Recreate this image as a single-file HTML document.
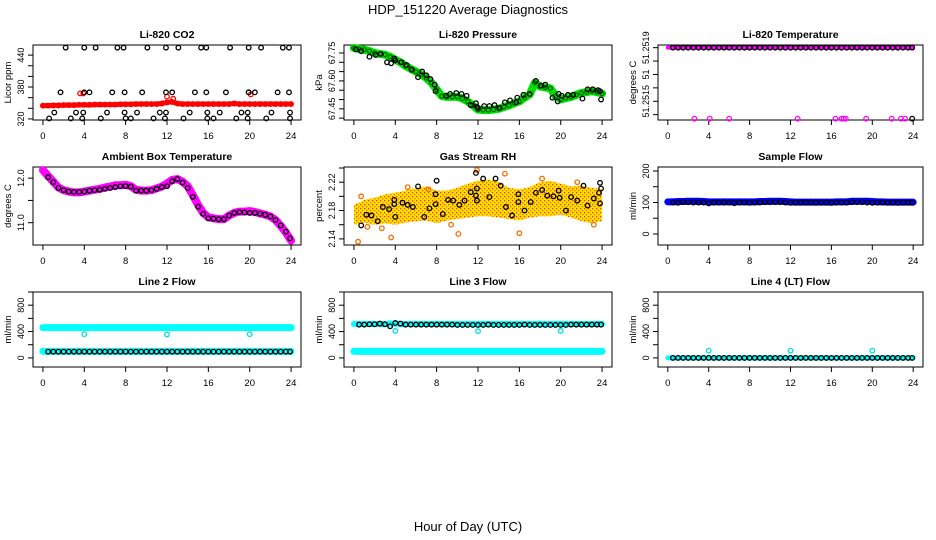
<!DOCTYPE html>
<html><head><meta charset="utf-8"><style>
html,body{margin:0;padding:0;background:#fff;}
svg{display:block;font-family:"Liberation Sans",Arial,sans-serif;}
</style></head><body>
<svg id="chart" width="936" height="540" viewBox="0 0 936 540" xmlns="http://www.w3.org/2000/svg">
<defs>
<pattern id="rhpat" width="4" height="4" patternUnits="userSpaceOnUse">
<rect width="4" height="4" fill="#ffe000"/><rect x="0" y="0" width="1.3" height="1.3" fill="#f03a10"/><rect x="2" y="2" width="1.3" height="1.3" fill="#f07010"/>
</pattern>
</defs>
<text x="468" y="14" font-size="13" text-anchor="middle">HDP_151220  Average Diagnostics</text>
<text x="468" y="531" font-size="13" text-anchor="middle">Hour of Day (UTC)</text>
</svg>
<script>
const hgrid = [0,0.5,1,1.5,2,2.5,3,3.5,4,4.5,5,5.5,6,6.5,7,7.5,8,8.5,9,9.5,10,10.5,11,11.5,12,12.5,13,13.5,14,14.5,15,15.5,16,16.5,17,17.5,18,18.5,19,19.5,20,20.5,21,21.5,22,22.5,23,23.5,24];
const bgrid = [0.5,1,1.5,2,2.5,3,3.5,4,4.5,5,5.5,6,6.5,7,7.5,8,8.5,9,9.5,10,10.5,11,11.5,12,12.5,13,13.5,14,14.5,15,15.5,16,16.5,17,17.5,18,18.5,19,19.5,20,20.5,21,21.5,22,22.5,23,23.5,23.9];
const xTicks = [0,4,8,12,16,20,24];

// CO2
const co2Red = [345,345,345.5,345.5,346,346,346,346.5,346.5,346.5,347,347,347,347,347,347.5,347.5,347.5,348,348,348,348,348,349,351,352,349,348,348,348,348,348,348,348,348,348,348,349,348,348,348,348,348,348,348,348,348,348,348];
const co2RedOutX = [3.6,3.9,12.0,12.6,19.9,20.1];
const co2RedOutY = [368,368,362,358,370,366];
const co2BlkX = [2.2,4.0,5.1,7.2,7.8,10.1,11.9,13.1,15.3,15.8,18.1,19.9,21.1,23.2,23.8, 1.7,4.0,4.5,6.7,7.9,9.6,11.9,12.5,14.7,15.8,17.7,19.9,20.5,22.7,23.8, 1.1,3.2,3.9,6.2,7.9,9.1,11.3,11.9,14.2,15.9,17.1,19.2,19.8,22.1,23.9, 0.6,2.7,3.8,5.6,8.0,8.5,10.7,11.8,13.6,15.9,16.5,18.7,19.8,21.6,23.9];
const co2BlkY = [454,454,454,454,454,454,454,454,454,454,454,454,454,454,454, 370,370,370,370,370,370,370,370,370,370,370,370,370,370,370, 332,332,332,332,332,332,332,332,332,332,332,332,332,332,332, 321,321,321,321,321,321,321,321,321,321,321,321,321,321,321];

// Pressure
const presGreen = [67.777,67.772,67.768,67.76,67.75,67.745,67.741,67.73,67.714,67.70,67.68,67.665,67.65,67.635,67.616,67.59,67.554,67.518,67.514,67.514,67.514,67.505,67.49,67.468,67.446,67.444,67.443,67.446,67.45,67.46,67.468,67.48,67.49,67.51,67.527,67.59,67.57,67.565,67.56,67.518,67.5,67.508,67.514,67.525,67.535,67.54,67.545,67.54,67.532];
const presBlkX = [0.2,0.7,1.5,2.1,2.6,3.2,3.6,3.9,4.0,4.6,5.1,5.6,6.2,6.6,7.0,7.4,7.8,7.9,8.9,9.3,9.9,10.4,10.9,11.3,11.8,11.9,12.0,12.6,13.1,13.6,14.1,14.6,15.1,15.7,15.8,16.4,17.0,17.6,18.1,18.5,19.2,19.7,19.8,20.1,20.7,21.2,22.1,22.6,23.1,23.6,23.8,23.9];
const presBlkY = [67.77,67.76,67.73,67.74,67.745,67.7,67.695,67.72,67.71,67.70,67.685,67.66,67.62,67.65,67.63,67.61,67.58,67.545,67.52,67.53,67.535,67.53,67.52,67.47,67.48,67.46,67.455,67.465,67.465,67.47,67.455,67.485,67.495,67.485,67.51,67.525,67.53,67.60,67.575,67.58,67.51,67.49,67.53,67.52,67.525,67.525,67.505,67.555,67.555,67.55,67.545,67.5];

// Li-820 temperature
const ltTop = [51.2519,51.2519,51.2519,51.2519,51.2519,51.2519,51.2519,51.2519,51.2519,51.2519,51.2519,51.2519,51.2519,51.2519,51.2519,51.2519,51.2519,51.2519,51.2519,51.2519,51.2519,51.2519,51.2519,51.2519,51.2519,51.2519,51.2519,51.2519,51.2519,51.2519,51.2519,51.2519,51.2519,51.2519,51.2519,51.2519,51.2519,51.2519,51.2519,51.2519,51.2519,51.2519,51.2519,51.2519,51.2519,51.2519,51.2519,51.2519,51.2519];
const ltLowX = [2.6,4.1,6.0,12.7,16.4,17.0,17.2,17.4,19.4,21.9,22.8,23.2];
const ltLowY = [51.25137,51.25137,51.25137,51.25137,51.25137,51.25137,51.25137,51.25137,51.25137,51.25137,51.25137,51.25137];

// Ambient
const ambMag = [12.18,12.05,11.92,11.79,11.73,11.70,11.68,11.68,11.70,11.72,11.74,11.76,11.79,11.81,11.84,11.84,11.85,11.82,11.74,11.72,11.72,11.73,11.77,11.81,11.88,11.96,11.98,11.92,11.82,11.62,11.40,11.22,11.12,11.10,11.08,11.08,11.16,11.22,11.25,11.25,11.26,11.24,11.21,11.18,11.14,11.06,10.93,10.78,10.6];
const ambBlk = [12.02,11.91,11.78,11.73,11.70,11.69,11.69,11.70,11.72,11.73,11.74,11.76,11.78,11.80,11.82,11.82,11.81,11.72,11.72,11.72,11.73,11.76,11.80,11.82,11.93,11.98,11.90,11.78,11.58,11.36,11.20,11.10,11.09,11.08,11.08,11.16,11.22,11.24,11.23,11.22,11.22,11.20,11.18,11.14,11.06,10.94,10.80,10.65];

// RH
const rhHours = [0,1,2,3,4,5,6,7,8,9,10,11,12,13,14,15,16,17,18,19,20,21,22,23,24];
const rhUpper = [2.188,2.195,2.198,2.203,2.205,2.208,2.212,2.214,2.208,2.208,2.212,2.218,2.222,2.224,2.22,2.212,2.21,2.213,2.22,2.222,2.218,2.214,2.215,2.212,2.21];
const rhLower = [2.16,2.163,2.16,2.162,2.16,2.163,2.165,2.166,2.162,2.166,2.168,2.17,2.172,2.172,2.17,2.168,2.166,2.17,2.172,2.172,2.174,2.17,2.165,2.162,2.165];
const rhOutX = [0.4,3.6,10.1,16.0,7.2,5.2,11.9,14.6,2.7,1.3,9.4,18.2,21.6,0.7,23.2];
const rhOutY = [2.136,2.142,2.147,2.148,2.21,2.213,2.237,2.232,2.155,2.157,2.16,2.225,2.22,2.2,2.16];
const rhBlkX = [0.7,1.2,1.7,2.3,2.8,3.4,3.9,3.9,4.0,4.7,5.2,5.7,6.2,6.8,7.3,8.0,7.9,7.9,8.6,9.1,9.6,10.2,10.7,11.3,11.8,11.9,11.8,11.9,12.5,13.1,13.7,14.2,14.7,15.3,15.9,15.9,16.5,17.1,17.6,18.2,18.7,19.3,19.8,19.9,20.5,21.0,21.6,22.2,22.6,23.2,23.7,23.8,23.8,23.9];
const rhBlkY = [2.159,2.174,2.173,2.165,2.185,2.182,2.195,2.189,2.171,2.191,2.188,2.185,2.214,2.171,2.183,2.222,2.203,2.189,2.175,2.195,2.194,2.188,2.194,2.206,2.233,2.211,2.201,2.194,2.225,2.199,2.225,2.215,2.185,2.173,2.203,2.192,2.18,2.192,2.205,2.209,2.201,2.2,2.208,2.198,2.18,2.199,2.194,2.215,2.187,2.197,2.205,2.19,2.219,2.211];

// Sample flow
const sfBlue = [102,102,103,103,104,104,104,103,102,102,102,102,102,102,102,102,102,102,103,103,104,104,104,103,102,101,101,101,101,101,101,101,101,102,102,102,104,104,104,104,103,102,102,101,101,101,101,101,101];
const sfBlk = [100,99,101,101,100,100,100,97,100,100,100,100,98,100,100,99,100,100,101,101,101,101,100,99,100,100,100,100,99,100,100,99,100,100,100,101,101,101,100,99,100,100,100,100,99,100,100,99];

// Line 2
const l2High = [460,460,460,460,460,460,460,460,460,460,460,460,460,460,460,460,460,460,460,460,460,460,460,460,460,460,460,460,460,460,460,460,460,460,460,460,460,460,460,460,460,460,460,460,460,460,460,460,460];
const l2Low = [100,100,100,100,100,100,100,100,100,100,100,100,100,100,100,100,100,100,100,100,100,100,100,100,100,100,100,100,100,100,100,100,100,100,100,100,100,100,100,100,100,100,100,100,100,100,100,100,100];
const l2Blk = [95,95,95,95,95,95,95,95,95,95,95,95,95,95,95,95,95,95,95,95,95,95,95,95,95,95,95,95,95,95,95,95,95,95,95,95,95,95,95,95,95,95,95,95,95,95,95,95];
const outX = [4,12,20];
const l2OutY = [360,355,360];

// Line 3
const l3High = [515,515,515,515,515,515,515,520,520,515,515,515,515,515,515,515,515,515,515,515,515,515,515,515,515,515,515,515,515,515,515,515,515,515,515,515,515,515,515,515,515,515,515,515,515,515,515,515,515];
const l3Low = l2Low;
const l3Blk = [505,505,510,510,520,510,480,530,520,505,505,505,505,505,505,505,505,505,505,500,500,500,500,500,500,505,500,500,500,500,500,500,505,500,500,500,500,500,500,500,500,505,505,505,505,505,505,505];
const l3OutY = [410,405,410];

// Line 4
const l4Cyan = [0,0,0,0,0,0,0,0,0,0,0,0,0,0,0,0,0,0,0,0,0,0,0,0,0,0,0,0,0,0,0,0,0,0,0,0,0,0,0,0,0,0,0,0,0,0,0,0,0];
const l4Blk = [0,0,0,0,0,0,0,0,0,0,0,0,0,0,0,0,0,0,0,0,0,0,0,0,0,0,0,0,0,0,0,0,0,0,0,0,0,0,0,0,0,0,0,0,0,0,0,0];
const l4OutY = [110,110,110];

const svg = document.getElementById('chart');
const NS = 'http://www.w3.org/2000/svg';
function el(tag, attrs, parent) {
  const e = document.createElementNS(NS, tag);
  for (const k in attrs) e.setAttribute(k, attrs[k]);
  (parent || svg).appendChild(e);
  return e;
}
const cols = [[33,301],[344,612],[658,923]];
const rows = [[45,120],[167,245],[292,367]];

function panel(name, c, r, ylim, yTicks, yLabels, ylab) {
  const g = el('g', {});
  
  
  const [x0,x1] = cols[c], [y0,y1] = rows[r];
  const sx = h => x0 + (h + 0.96) / 25.92 * (x1 - x0);
  const sy = v => y1 - (v - ylim[0]) / (ylim[1] - ylim[0]) * (y1 - y0);
  const box = el('rect', {x:x0, y:y0, width:x1-x0, height:y1-y0, fill:'none', stroke:'#000', 'stroke-width':1}, g);
  
  
  const xa = el('g', {}, g);
  
  
  el('line', {x1:sx(xTicks[0]), x2:sx(xTicks[xTicks.length-1]), y1:y1, y2:y1, stroke:'#000'}, xa);
  xTicks.forEach(t => {
    el('line', {x1:sx(t), x2:sx(t), y1:y1, y2:y1+5, stroke:'#000'}, xa);
    const tx = el('text', {x:sx(t), y:y1+19, 'font-size':9.5, 'text-anchor':'middle'}, xa);
    tx.textContent = t;
    
    
  });
  const ya = el('g', {}, g);
  
  
  el('line', {x1:x0, x2:x0, y1:sy(yTicks[0]), y2:sy(yTicks[yTicks.length-1]), stroke:'#000'}, ya);
  yTicks.forEach((t, i) => {
    el('line', {x1:x0-5, x2:x0, y1:sy(t), y2:sy(t), stroke:'#000'}, ya);
    if (yLabels[i] !== '') {
      const yy = sy(t);
      const tx = el('text', {x:x0-9, y:yy, 'font-size':9, 'text-anchor':'middle', transform:`rotate(-90 ${x0-9} ${yy})`}, ya);
      tx.textContent = yLabels[i];
      
      
    }
  });
  const ym = (y0 + y1) / 2;
  const yl = el('text', {x:x0-22, y:ym, 'font-size':9.5, 'text-anchor':'middle', transform:`rotate(-90 ${x0-22} ${ym})`}, g);
  yl.textContent = ylab;
  
  
  const tt = el('text', {x:(x0+x1)/2, y:y0-7, 'font-size':10.5, 'font-weight':'bold', 'text-anchor':'middle'}, g);
  
  
  return {g, sx, sy, tt};
}
function band(p, xs, ys, color, w, nm) {
  const pts = [];
  for (let i = 0; i < Math.min(xs.length, ys.length); i++) pts.push(p.sx(xs[i]) + ',' + p.sy(ys[i]));
  const l = el('polyline', {points:pts.join(' '), fill:'none', stroke:color, 'stroke-width':w, 'stroke-linejoin':'round', 'stroke-linecap':'round'}, p.g);
  
  
}
function pts(p, xs, ys, color, nm, r) {
  const g = el('g', {}, p.g);
  
  
  for (let i = 0; i < Math.min(xs.length, ys.length); i++) {
    const c = el('circle', {cx:p.sx(xs[i]), cy:p.sy(ys[i]), r:r||2.3, fill:'none', stroke:color, 'stroke-width':1.3}, g);
    
    
  }
}

// Panel 1 CO2
let p = panel('co2', 0, 0, [318,459], [320,340,360,380,400,420,440], ['320','','','380','','','440'], 'Licor ppm');
p.tt.textContent = 'Li-820 CO2';
band(p, hgrid, co2Red, '#ff0000', 5, 'co2-red-band');
pts(p, hgrid, co2Red, '#ff0000', 'co2-red-points');
pts(p, co2RedOutX, co2RedOutY, '#ff0000', 'co2-red-outliers');
pts(p, co2BlkX, co2BlkY, '#000', 'co2-black-points');

// Panel 2 pressure
p = panel('pressure', 1, 0, [67.39,67.793], [67.40,67.45,67.50,67.55,67.60,67.65,67.70,67.75], ['','67.45','','','67.60','','','67.75'], 'kPa');
p.tt.textContent = 'Li-820 Pressure';
band(p, hgrid, presGreen, '#00e000', 8, 'pressure-green-band');
pts(p, hgrid, presGreen, '#007000', 'pressure-green-points', 2);
pts(p, presBlkX, presBlkY, '#000', 'pressure-black-points');

// Panel 3 Li temp
p = panel('li-temp', 2, 0, [51.25136,51.25192], [51.2514,51.2515,51.2516,51.2517,51.2518,51.2519], ['','51.2515','','51','','51.2519'], 'degrees C');
p.tt.textContent = 'Li-820 Temperature';
band(p, hgrid, ltTop, '#ff00ff', 4, 'li-temp-magenta-band');
pts(p, bgrid, ltTop, '#000', 'li-temp-black-points');
pts(p, ltLowX, ltLowY, '#ff00ff', 'li-temp-magenta-low');
pts(p, [23.9], [51.25137], '#000', 'li-temp-black-low');

// Panel 4 ambient
p = panel('ambient', 0, 1, [10.5,12.25], [11.0,11.5,12.0], ['11.0','','12.0'], 'degrees C');
p.tt.textContent = 'Ambient Box Temperature';
band(p, hgrid, ambMag, '#ff00ff', 8, 'ambient-magenta-band');
pts(p, bgrid, ambBlk, '#000', 'ambient-black-points');

// Panel 5 RH
p = panel('rh', 1, 1, [2.1314,2.2414], [2.14,2.16,2.18,2.20,2.22,2.24], ['2.14','','2.18','','2.22',''], 'percent');
p.tt.textContent = 'Gas Stream RH';
{
  const up = rhHours.map((h,i) => p.sx(h) + ',' + p.sy(rhUpper[i]));
  const lo = rhHours.map((h,i) => p.sx(h) + ',' + p.sy(rhLower[i])).reverse();
  const poly = el('polygon', {points:up.concat(lo).join(' '), fill:'url(#rhpat)'}, p.g);
  
  
}
pts(p, rhOutX, rhOutY, '#f07000', 'rh-orange-outliers');
pts(p, rhBlkX, rhBlkY, '#000', 'rh-black-points');

// Panel 6 sample flow
p = panel('sample-flow', 2, 1, [-35,212.7], [0,50,100,150,200], ['0','','100','','200'], 'ml/min');
p.tt.textContent = 'Sample Flow';
band(p, hgrid, sfBlue, '#0000ff', 7, 'sample-flow-blue-band');
pts(p, bgrid, sfBlk, '#000', 'sample-flow-black-points');

// Panel 7 line 2
p = panel('line2', 0, 2, [-138,1000], [0,200,400,600,800,1000], ['0','','400','','800',''], 'ml/min');
p.tt.textContent = 'Line 2 Flow';
band(p, hgrid, l2High, '#00ffff', 7, 'line2-cyan-high');
band(p, hgrid, l2Low, '#00ffff', 7, 'line2-cyan-low');
pts(p, outX, l2OutY, '#00e0e0', 'line2-cyan-outliers');
pts(p, bgrid, l2Blk, '#000', 'line2-black-points');

// Panel 8 line 3
p = panel('line3', 1, 2, [-138,1000], [0,200,400,600,800,1000], ['0','','400','','800',''], 'ml/min');
p.tt.textContent = 'Line 3 Flow';
band(p, hgrid, l3High, '#00ffff', 6, 'line3-cyan-high');
band(p, hgrid, l3Low, '#00ffff', 7, 'line3-cyan-low');
pts(p, outX, l3OutY, '#00e0e0', 'line3-cyan-outliers');
pts(p, bgrid, l3Blk, '#000', 'line3-black-points');

// Panel 9 line 4
p = panel('line4', 2, 2, [-138,1000], [0,200,400,600,800,1000], ['0','','400','','800',''], 'ml/min');
p.tt.textContent = 'Line 4 (LT) Flow';
band(p, hgrid, l4Cyan, '#00ffff', 5, 'line4-cyan-band');
pts(p, outX, l4OutY, '#00e0e0', 'line4-cyan-outliers');
pts(p, bgrid, l4Blk, '#000', 'line4-black-points');
</script>
</body></html>
